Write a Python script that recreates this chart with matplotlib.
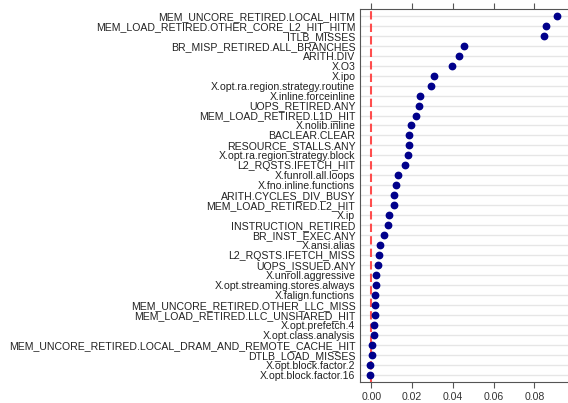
import matplotlib
matplotlib.use("Agg")
import matplotlib.pyplot as plt
import numpy as np

plt.rcParams['font.family'] = ['Liberation Sans', 'DejaVu Sans']

# features, ordered top to bottom
features = [
    "MEM_UNCORE_RETIRED.LOCAL_HITM",
    "MEM_LOAD_RETIRED.OTHER_CORE_L2_HIT_HITM",
    "ITLB_MISSES",
    "BR_MISP_RETIRED.ALL_BRANCHES",
    "ARITH.DIV",
    "X.O3",
    "X.ipo",
    "X.opt.ra.region.strategy.routine",
    "X.inline.forceinline",
    "UOPS_RETIRED.ANY",
    "MEM_LOAD_RETIRED.L1D_HIT",
    "X.nolib.inline",
    "BACLEAR.CLEAR",
    "RESOURCE_STALLS.ANY",
    "X.opt.ra.region.strategy.block",
    "L2_RQSTS.IFETCH_HIT",
    "X.funroll.all.loops",
    "X.fno.inline.functions",
    "ARITH.CYCLES_DIV_BUSY",
    "MEM_LOAD_RETIRED.L2_HIT",
    "X.ip",
    "INSTRUCTION_RETIRED",
    "BR_INST_EXEC.ANY",
    "X.ansi.alias",
    "L2_RQSTS.IFETCH_MISS",
    "UOPS_ISSUED.ANY",
    "X.unroll.aggressive",
    "X.opt.streaming.stores.always",
    "X.falign.functions",
    "MEM_UNCORE_RETIRED.OTHER_LLC_MISS",
    "MEM_LOAD_RETIRED.LLC_UNSHARED_HIT",
    "X.opt.prefetch.4",
    "X.opt.class.analysis",
    "MEM_UNCORE_RETIRED.LOCAL_DRAM_AND_REMOTE_CACHE_HIT",
    "DTLB_LOAD_MISSES",
    "X.opt.block.factor.2",
    "X.opt.block.factor.16",
]

importance = [
    0.0912, 0.0856, 0.0849, 0.0454, 0.0428, 0.0395, 0.0306, 0.0291,
    0.0239, 0.0234, 0.0218, 0.0194, 0.0186, 0.0183, 0.0181, 0.0164,
    0.0129, 0.0120, 0.0112, 0.0112, 0.0086, 0.0083, 0.0063, 0.0042,
    0.0038, 0.0034, 0.0023, 0.0021, 0.0020, 0.0020, 0.0016, 0.0015,
    0.0011, 0.0003, 0.0002, -0.0006, -0.0006,
]

xticks = [0.00, 0.02, 0.04, 0.06, 0.08]

fig = plt.figure(figsize=(5.68, 4.03), dpi=100)
ax = fig.add_axes([0.633, 0.053, 0.367, 0.925])

n = len(features)
ypos = np.arange(n)

for y in ypos:
    ax.axhline(y, color="#e6e6e6", lw=1.0, zorder=0)

ax.axvline(0, color="#ff3b3b", lw=1.5, ls=(0, (4, 2)), alpha=0.9, zorder=1)
ax.plot(importance, ypos, "o", color="#00008b", ms=4.6, zorder=3)

ax.set_yticks(ypos)
ax.set_yticklabels(features, fontsize=7.6, color="#222222")
ax.set_ylim(n - 0.3, -0.7)
ax.set_xlim(-0.0058, 0.0965)
ax.set_xticks(xticks)
ax.set_xticklabels(["%.2f" % t for t in xticks], fontsize=7.6)

ax.tick_params(axis="y", length=0, pad=3)
ax.tick_params(axis="x", top=True, direction="out", length=4, color="#555555", labelcolor="#333333")
for s in ["left", "top", "bottom"]:
    ax.spines[s].set_color("#555555")
    ax.spines[s].set_linewidth(0.8)
ax.spines["right"].set_visible(False)

fig.savefig("out.png", dpi=100)
